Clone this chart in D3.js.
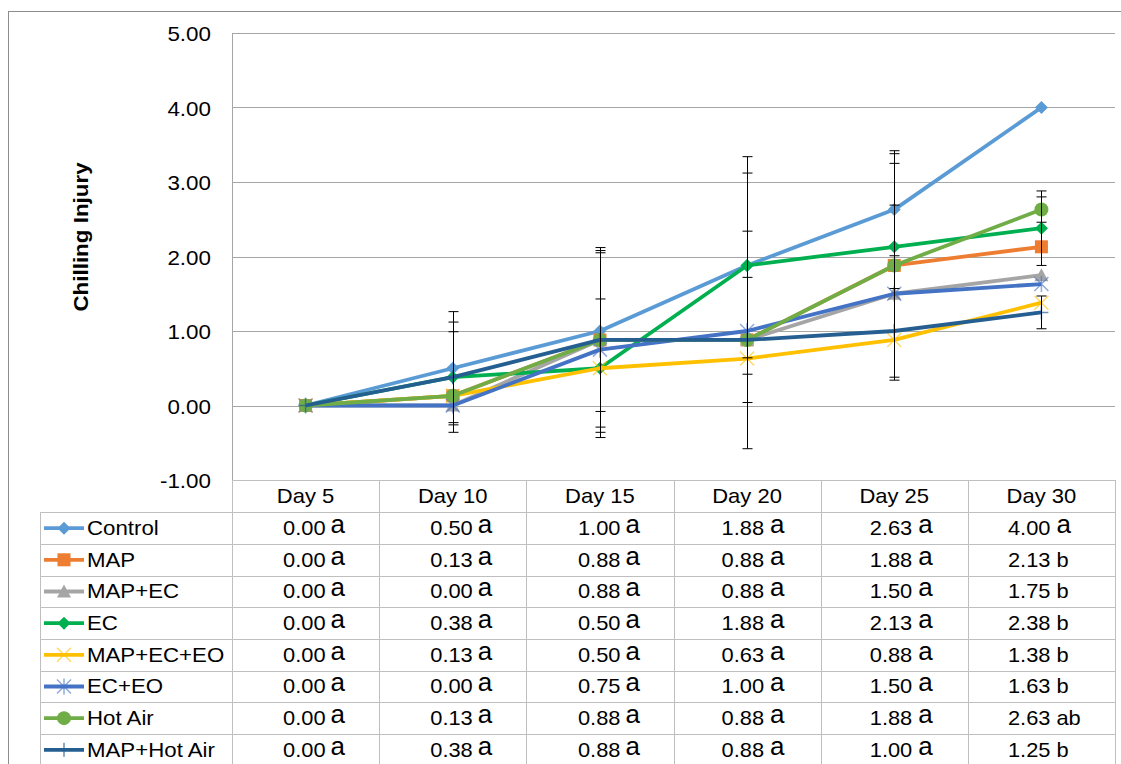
<!DOCTYPE html>
<html>
<head>
<meta charset="utf-8">
<script src="https://cdn.jsdelivr.net/npm/d3@7/dist/d3.min.js"></script>
<style>
  body { margin: 0; background: #fff; }
  svg { display: block; font-family: "Liberation Sans", Arial, sans-serif; }
</style>
</head>
<body>
<svg id="chart" width="1121" height="764"></svg>
<script>
const days = ['Day 5', 'Day 10', 'Day 15', 'Day 20', 'Day 25', 'Day 30'];
const yTicks = [-1, 0, 1, 2, 3, 4, 5];

const names = ['Control', 'MAP', 'MAP+EC', 'EC', 'MAP+EC+EO', 'EC+EO', 'Hot Air', 'MAP+Hot Air'];
const colors = ['#5B9BD5', '#ED7D31', '#A5A5A5', '#00B050', '#FFC000', '#4472C4', '#70AD47', '#255E91'];
const markers = ['diamond', 'square', 'triangle', 'diamond', 'x', 'star', 'circle', 'plus'];

const control = [0.00, 0.50, 1.00, 1.88, 2.63, 4.00];
const map = [0.00, 0.13, 0.88, 0.88, 1.88, 2.13];
const mapEc = [0.00, 0.00, 0.88, 0.88, 1.50, 1.75];
const ec = [0.00, 0.38, 0.50, 1.88, 2.13, 2.38];
const mapEcEo = [0.00, 0.13, 0.50, 0.63, 0.88, 1.38];
const ecEo = [0.00, 0.00, 0.75, 1.00, 1.50, 1.63];
const hotAir = [0.00, 0.13, 0.88, 0.88, 1.88, 2.63];
const mapHotAir = [0.00, 0.38, 0.88, 0.88, 1.00, 1.25];
const values = [control, map, mapEc, ec, mapEcEo, ecEo, hotAir, mapHotAir];

// error bar half-lengths (0 = no bar shown)
const errControl = [0, 0.76, 1.08, 1.46, 0.62, 0];
const errMap = [0, 0, 0, 0, 1.50, 0];
const errEc = [0, 0.61, 0.93, 1.24, 0.56, 0.50];
const errHotAir = [0, 0, 1.17, 0.84, 1.54, 0.17];
const errMapHotAir = [0, 0.74, 1.24, 1.46, 0, 0.22];
const zeros = [0, 0, 0, 0, 0, 0];
const errors = [errControl, errMap, zeros, errEc, zeros, zeros, errHotAir, errMapHotAir];

const letters = [
  ['a', 'a', 'a', 'a', 'a', 'a'],
  ['a', 'a', 'a', 'a', 'a', 'b'],
  ['a', 'a', 'a', 'a', 'a', 'b'],
  ['a', 'a', 'a', 'a', 'a', 'b'],
  ['a', 'a', 'a', 'a', 'a', 'b'],
  ['a', 'a', 'a', 'a', 'a', 'b'],
  ['a', 'a', 'a', 'a', 'a', 'ab'],
  ['a', 'a', 'a', 'a', 'a', 'b'],
];

const svg = d3.select('#chart');
const plotLeft = 232;
const plotRight = 1115;
const plotTop = 33;
const plotBottom = 480;

const x = d3.scaleBand().domain(days).range([plotLeft, plotRight]).padding(0);
const bw = x.bandwidth();
const cx = d => x(d) + bw / 2;
const y = d3.scaleLinear().domain([-1, 5]).range([plotBottom, plotTop]);

// the source picture is a little wider than tall, so text is stretched sideways
function putText(g, tx, ty, str, size, sx, anchor) {
  return g.append('text')
    .attr('transform', `translate(${tx},${ty}) scale(${sx},1)`)
    .attr('text-anchor', anchor || 'start')
    .attr('font-size', size)
    .text(str);
}

// outer frame
svg.append('rect')
  .attr('x', 8.5).attr('y', 11.5)
  .attr('width', 1130).attr('height', 800)
  .attr('fill', 'none').attr('stroke', '#8C8C8C').attr('stroke-width', 1);

// gridlines
svg.append('g')
  .selectAll('line')
  .data(yTicks)
  .enter()
  .append('line')
  .attr('x1', plotLeft).attr('x2', plotRight)
  .attr('y1', d => Math.round(y(d)) + 0.5)
  .attr('y2', d => Math.round(y(d)) + 0.5)
  .attr('stroke', '#A6A6A6').attr('stroke-width', 1);

svg.append('line')
  .attr('x1', plotLeft + 0.5).attr('x2', plotLeft + 0.5)
  .attr('y1', plotTop).attr('y2', plotBottom)
  .attr('stroke', '#A6A6A6');

// y axis labels
const yAxis = d3.axisLeft(y)
  .tickValues(yTicks)
  .tickFormat(d => d.toFixed(2))
  .tickSize(0)
  .tickPadding(21);
const yg = svg.append('g').attr('transform', `translate(${plotLeft},0)`).call(yAxis);
yg.select('.domain').remove();
yg.selectAll('text')
  .attr('x', null)
  .attr('dy', null)
  .attr('transform', 'translate(-21,7.5) scale(1.12,1)')
  .attr('font-family', '"Liberation Sans", Arial, sans-serif')
  .attr('font-size', 20)
  .attr('fill', '#000');

svg.append('text')
  .attr('transform', 'translate(88,237) rotate(-90) scale(1.12,1)')
  .attr('text-anchor', 'middle')
  .attr('font-size', 20)
  .attr('font-weight', 'bold')
  .text('Chilling Injury');

// marker drawing
function drawMarker(g, type, color, px, py) {
  const m = g.append('g').attr('transform', `translate(${px},${py})`);
  if (type === 'diamond') {
    m.append('path').attr('d', 'M0,-6.5L6.5,0L0,6.5L-6.5,0Z').attr('fill', color);
  } else if (type === 'square') {
    m.append('rect').attr('x', -6.5).attr('y', -6.5).attr('width', 13).attr('height', 13).attr('fill', color);
  } else if (type === 'triangle') {
    m.append('path').attr('d', 'M0,-7L7,6L-7,6Z').attr('fill', color);
  } else if (type === 'circle') {
    m.append('circle').attr('r', 7).attr('fill', color);
  } else if (type === 'x') {
    m.append('path').attr('d', 'M-7,-7L7,7M-7,7L7,-7')
      .attr('stroke', color).attr('stroke-width', 1.5).attr('stroke-opacity', 0.6);
  } else if (type === 'star') {
    m.append('path').attr('d', 'M-7,-7L7,7M-7,7L7,-7M0,-8L0,8')
      .attr('stroke', color).attr('stroke-width', 1.5).attr('stroke-opacity', 0.6);
  } else if (type === 'plus') {
    m.append('path').attr('d', 'M0,-7L0,7M-7,0L7,0')
      .attr('stroke', color).attr('stroke-width', 1.5).attr('stroke-opacity', 0.7);
  }
}

const line = d3.line()
  .x((d, i) => cx(days[i]))
  .y(d => y(d));

const plot = svg.append('g');
values.forEach((vals, s) => {
  const g = plot.append('g');
  g.append('path')
    .datum(vals)
    .attr('d', line)
    .attr('fill', 'none')
    .attr('stroke', colors[s])
    .attr('stroke-width', 3.8)
    .attr('stroke-linejoin', 'round');
  vals.forEach((v, i) => drawMarker(g, markers[s], colors[s], cx(days[i]), y(v)));
});

// error bars
const eb = svg.append('g').attr('stroke', '#000').attr('stroke-width', 1);
values.forEach((vals, s) => {
  vals.forEach((v, i) => {
    const e = errors[s][i];
    if (!e) return;
    const px = Math.round(cx(days[i])) + 0.5;
    eb.append('line').attr('x1', px).attr('x2', px).attr('y1', y(v + e)).attr('y2', y(v - e));
    [v + e, v - e].forEach(t => {
      eb.append('line').attr('x1', px - 5).attr('x2', px + 5).attr('y1', y(t)).attr('y2', y(t));
    });
  });
});

// data table
const tableLeft = 40;
const headTop = plotBottom;
const rowTop = 512.3;
const rowH = 31.67;
const tcolor = '#BFBFBF';
const tbl = svg.append('g');

tbl.append('line')
  .attr('x1', plotLeft).attr('x2', plotRight)
  .attr('y1', headTop + 0.5).attr('y2', headTop + 0.5)
  .attr('stroke', tcolor);
d3.range(names.length + 1).forEach(r => {
  const yy = Math.round(rowTop + r * rowH) + 0.5;
  tbl.append('line').attr('x1', tableLeft).attr('x2', plotRight)
    .attr('y1', yy).attr('y2', yy).attr('stroke', tcolor);
});
tbl.append('line')
  .attr('x1', tableLeft + 0.5).attr('x2', tableLeft + 0.5)
  .attr('y1', rowTop).attr('y2', 800).attr('stroke', tcolor);
days.concat(['end']).forEach((d, i) => {
  const xx = Math.round(plotLeft + i * bw) + 0.5;
  tbl.append('line').attr('x1', xx).attr('x2', xx)
    .attr('y1', headTop).attr('y2', 800).attr('stroke', tcolor);
});

days.forEach(d => putText(tbl, cx(d), 503, d, 20, 1.1, 'middle'));

const numEnd = [20, 20, 20.5, 17, 18, 9];
names.forEach((n, r) => {
  const base = rowTop + r * rowH + 22.7;
  const mid = rowTop + r * rowH + rowH / 2;
  tbl.append('line')
    .attr('x1', 44).attr('x2', 84)
    .attr('y1', mid).attr('y2', mid)
    .attr('stroke', colors[r]).attr('stroke-width', 3.8);
  drawMarker(tbl, markers[r], colors[r], 64, mid);
  putText(tbl, 87, base, n, 21, 1.06);
  values[r].forEach((v, i) => {
    const ex = cx(days[i]) + numEnd[i];
    putText(tbl, ex, base, v.toFixed(2), 21, 1.04, 'end');
    const single = letters[r][i] === 'a';
    putText(tbl, ex + (i < 3 ? 5 : 6), base - (single ? 2 : 0), letters[r][i], single ? 25 : 21, 1.04);
  });
});
</script>
</body>
</html>
